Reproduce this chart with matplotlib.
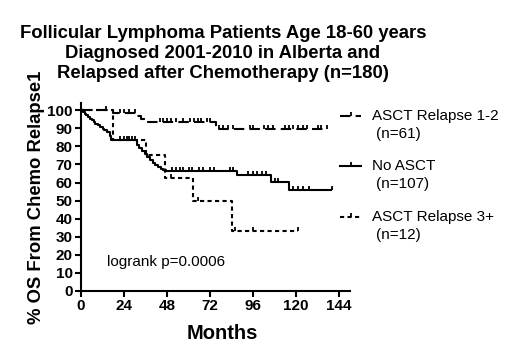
import numpy as np
import matplotlib
matplotlib.use("Agg")
import matplotlib.pyplot as plt
from matplotlib.path import Path
from matplotlib.lines import Line2D

plt.rcParams['font.family'] = ['Liberation Sans', 'DejaVu Sans']

# ---------------- data ----------------
title = "Follicular Lymphoma Patients Age 18-60 years\nDiagnosed 2001-2010 in Alberta and\nRelapsed after Chemotherapy (n=180)"
xlabel = "Months"
ylabel = "% OS From Chemo Relapse1"
xticks = [0, 24, 48, 72, 96, 120, 144]
yticks = [0, 10, 20, 30, 40, 50, 60, 70, 80, 90, 100]

series_names = ["ASCT Relapse 1-2", "No ASCT", "ASCT Relapse 3+"]
series_n = ["(n=61)", "(n=107)", "(n=12)"]

asct12_t = [0, 18, 31, 33.5, 36.5, 75]
asct12_s = [100, 98.4, 96.7, 95.1, 93.4, 89.6]
asct12_end = 137
asct12_cens = [14, 22, 24, 27, 30, 44, 46, 48, 50, 53, 57, 61, 63, 65, 67, 70, 72,
               77, 79, 82, 85, 94, 96, 102, 104, 107, 114, 116, 118, 121, 124, 126,
               132, 134, 137]

noasct_t = [0, 1, 2, 3, 4, 5, 6, 7, 8, 9.5, 10.5, 12, 13, 14.5, 16, 17, 31, 32.5, 34,
            35.5, 37, 38.5, 40, 41.5, 43, 44.5, 46, 47.5, 87, 106, 116]
noasct_s = [100, 99.1, 98.1, 97.2, 96.3, 95.3, 94.4, 93.5, 92.5, 91.6, 90.6, 89.7, 88.8,
            87.8, 85.9, 83.8, 81.0, 79.2, 77.4, 75.6, 74.0, 72.4, 71.0, 69.8, 68.6, 67.6,
            67.0, 66.6, 64.4, 60.5, 56.0]
noasct_end = 140
noasct_cens = [22, 24, 25.5, 27, 28.5, 30, 51, 53, 55, 57, 60, 62, 66, 68, 72, 74, 83,
               85, 93, 96, 98, 101, 103, 108, 110, 118, 121, 124, 127, 140]

asct3_t = [0, 18, 36, 47, 62.5, 84]
asct3_s = [100, 83.3, 75, 62.5, 50, 33.3]
asct3_end = 121
asct3_cens = [50, 65, 86, 96, 121]

logrank = "logrank p=0.0006"

# ---------------- figure ----------------
fig = plt.figure(figsize=(5.2, 3.6), dpi=100)
ax = fig.add_axes([81/520, 1-291/360, 269/520, 188/360])

up_tick = Path([(0, 0), (0, 1)], [Path.MOVETO, Path.LINETO])

styles = [
    dict(ls=(0, (5, 2.5))),
    dict(ls='-'),
    dict(ls=(0, (2, 1.6))),
]
data = [
    (asct12_t, asct12_s, asct12_end, asct12_cens),
    (noasct_t, noasct_s, noasct_end, noasct_cens),
    (asct3_t, asct3_s, asct3_end, asct3_cens),
]

for (t, s, end, cens), st in zip(data, styles):
    tt = list(t) + [end]
    ss = list(s) + [s[-1]]
    ax.step(tt, ss, where='post', color='black', lw=1.5, linestyle=st['ls'],
            solid_capstyle='butt', dash_capstyle='butt')
    t_arr = np.array(t)
    cy = [s[np.searchsorted(t_arr, c, side='right') - 1] for c in cens]
    ax.plot(cens, cy, linestyle='none', marker=up_tick, markersize=5.5,
            markeredgewidth=1.3, color='black')

ax.set_xlim(0, 150)
ax.set_ylim(0, 104)
ax.set_xticks(xticks)
ax.set_yticks(yticks)
ax.spines['top'].set_visible(False)
ax.spines['right'].set_visible(False)
ax.spines['left'].set_linewidth(1.5)
ax.spines['bottom'].set_linewidth(1.5)
ax.tick_params(direction='out', length=4, width=1.5, labelsize=11, pad=2)
for lab in ax.get_xticklabels() + ax.get_yticklabels():
    lab.set_fontweight('bold')

ax.set_xlabel(xlabel, fontsize=14.5, fontweight='bold')
ax.xaxis.set_label_coords((222-81)/269, -0.175)
ax.set_ylabel(ylabel, fontsize=13.3, fontweight='bold')
ax.yaxis.set_label_coords(-0.135, 0.5)

ax.text(14.5, 16, logrank, fontsize=11, va='center', ha='left')

fig.text(223/520, 1-25/360, title, ha='center', va='top', fontsize=13.3,
         fontweight='bold', linespacing=1.25)

# legend (manual)
leg_y = [116, 166, 217]
for name, n, st, yy in zip(series_names, series_n, styles, leg_y):
    yf = 1 - yy/360
    fig.add_artist(Line2D([340/520, 361/520], [yf, yf], color='black', lw=1.5,
                          linestyle=st['ls'], transform=fig.transFigure))
    fig.add_artist(Line2D([350.5/520], [yf], color='black', marker=up_tick,
                          markersize=5.5, markeredgewidth=1.3, linestyle='none',
                          transform=fig.transFigure))
    fig.text(372/520, yf, name, fontsize=11, va='center', ha='left')
    fig.text(376/520, yf - 18/360, n, fontsize=11, va='center', ha='left')

fig.savefig("out.png", dpi=100)
